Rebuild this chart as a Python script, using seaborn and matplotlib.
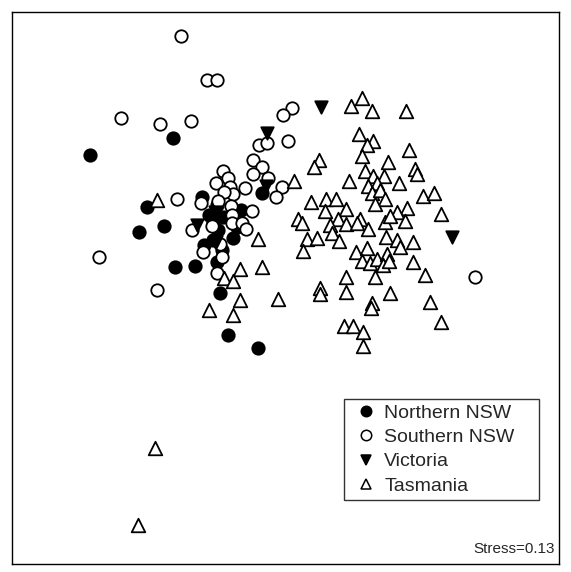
import pandas as pd
import seaborn as sns
import matplotlib.pyplot as plt
from matplotlib.lines import Line2D

# NMDS scores (arbitrary units, axis 2 pointing down)
northern_x = [90, 173, 147, 139, 164, 175, 195, 220, 228, 258, 202, 262, 217, 209,
              213, 218, 223, 213, 204, 233, 237, 217, 222, 241]
northern_y = [155, 138, 207, 232, 226, 267, 266, 293, 335, 348, 197, 193, 205, 215,
              222, 230, 217, 240, 245, 238, 227, 262, 250, 210]

southern_x = [181, 207, 217, 121, 160, 191, 177, 259, 253, 262, 253, 223, 228, 216,
              230, 245, 233, 224, 201, 218, 231, 252, 292, 283, 288, 267, 268, 282,
              276, 99, 157, 232, 232, 242, 246, 212, 192, 220, 203, 222, 217, 475]
southern_y = [36, 80, 80, 118, 124, 121, 199, 145, 160, 167, 174, 171, 178, 183,
              187, 188, 194, 192, 203, 201, 206, 211, 108, 115, 141, 143, 178, 187,
              197, 257, 290, 215, 223, 223, 229, 226, 230, 244, 252, 257, 273, 277]

victoria_x = [321, 267, 266, 452, 197, 215, 216]
victoria_y = [107, 133, 186, 237, 225, 212, 242]

tasmania_x = [157, 155, 138, 362, 351, 372, 406, 359, 373, 367, 409, 362, 319, 314,
              388, 365, 373, 384, 349, 294, 399, 415, 417, 368, 377, 372, 380, 385,
              375, 423, 434, 311, 326, 336, 346, 325, 407, 397, 441, 298, 302, 360,
              385, 405, 338, 330, 346, 357, 368, 390, 258, 307, 317, 332, 339, 303,
              386, 397, 400, 413, 356, 367, 362, 370, 377, 387, 383, 389, 413, 262,
              346, 375, 425, 320, 320, 346, 390, 278, 372, 371, 430, 344, 353, 363,
              441, 363, 240, 224, 233, 240, 209, 233]
tasmania_y = [200, 448, 525, 98, 106, 111, 111, 134, 141, 145, 150, 156, 160, 167,
              162, 171, 176, 176, 181, 181, 183, 169, 174, 186, 183, 193, 190, 199,
              204, 196, 193, 202, 199, 199, 209, 211, 208, 212, 214, 219, 223, 219,
              222, 221, 219, 225, 224, 223, 229, 216, 239, 239, 238, 233, 241, 251,
              237, 240, 247, 242, 252, 248, 261, 263, 259, 254, 265, 261, 262, 267,
              277, 277, 275, 288, 294, 292, 293, 299, 303, 308, 302, 326, 326, 332,
              322, 346, 269, 278, 281, 300, 310, 315]

regions = ["Northern NSW", "Southern NSW", "Victoria", "Tasmania"]
markers = {"Northern NSW": "o", "Southern NSW": "o", "Victoria": "v", "Tasmania": "^"}
faces = {"Northern NSW": "black", "Southern NSW": "white", "Victoria": "black", "Tasmania": "white"}

frames = []
for name, xs, ys in [("Northern NSW", northern_x, northern_y),
                     ("Southern NSW", southern_x, southern_y),
                     ("Victoria", victoria_x, victoria_y),
                     ("Tasmania", tasmania_x, tasmania_y)]:
    frames.append(pd.DataFrame({"NMDS1": xs, "NMDS2": ys, "region": name}))
df = pd.concat(frames, ignore_index=True)

sns.set_style("white")
plt.rcParams["font.family"] = ["Liberation Sans", "DejaVu Sans"]

fig = plt.figure(figsize=(5.71, 5.72), dpi=100)
ax = fig.add_axes([12 / 571, 8 / 572, 547 / 571, 552 / 572])

for name in regions:
    sub = df[df["region"] == name]
    sns.scatterplot(data=sub, x="NMDS1", y="NMDS2", marker=markers[name],
                    color=faces[name], edgecolor="black", linewidth=1.3,
                    s=95 if name == "Tasmania" else 80, ax=ax, legend=False, zorder=3)

ax.set_xlim(12, 559)
ax.set_ylim(564, 12)
ax.set_xticks([])
ax.set_yticks([])
ax.set_xlabel("")
ax.set_ylabel("")
for sp in ax.spines.values():
    sp.set_color("black")
    sp.set_linewidth(1.0)

handles = [Line2D([], [], linestyle="none", marker=markers[n], markersize=7.5,
                  markerfacecolor=faces[n], markeredgecolor="black", markeredgewidth=1.1)
           for n in regions]
leg = ax.legend(handles, regions, loc="upper left",
                bbox_to_anchor=(0.607, 0.12, 0.356, 0.179), mode="expand",
                borderaxespad=0, frameon=True, fancybox=False, fontsize=14,
                handletextpad=0.09, labelspacing=0.35, borderpad=0.26, handlelength=1.72)
leg.get_frame().set_edgecolor("black")
leg.get_frame().set_linewidth(1.0)

ax.text(0.992, 0.015, "Stress=0.13", transform=ax.transAxes, ha="right", va="bottom",
        fontsize=11)

fig.savefig("out.png", dpi=100)
